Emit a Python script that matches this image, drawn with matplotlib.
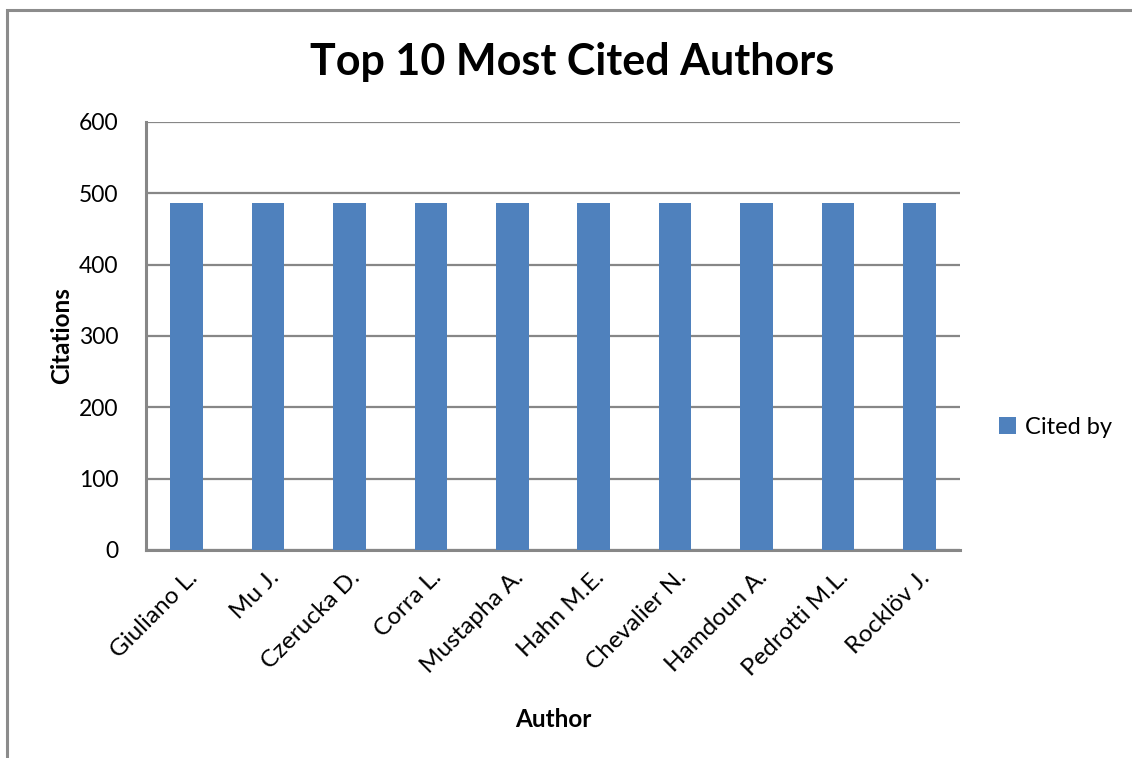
import matplotlib
matplotlib.use("Agg")
import matplotlib.pyplot as plt
from matplotlib.patches import Rectangle

authors = ["Giuliano L.", "Mu J.", "Czerucka D.", "Corra L.", "Mustapha A.",
           "Hahn M.E.", "Chevalier N.", "Hamdoun A.", "Pedrotti M.L.", "Rocklöv J."]
cited_by = [486, 486, 486, 486, 486, 486, 486, 486, 486, 486]
y_ticks = [0, 100, 200, 300, 400, 500, 600]

BAR = "#4f81bd"
GRID = "#878787"
FONT = ["Lato", "DejaVu Sans"]
plt.rcParams["font.family"] = FONT

W, H = 1132, 758
fig = plt.figure(figsize=(W / 100, H / 100), dpi=100)

# chart frame (open at right and bottom edges)
fig.add_artist(Rectangle((7 / W, -0.1), 1.2, (H - 10) / H + 0.1,
                         transform=fig.transFigure, fill=False,
                         edgecolor="#8c8c8c", linewidth=2.2))

ax = fig.add_axes([146 / W, 1 - 550 / H, (960 - 146) / W, (550 - 122) / H])
x = range(len(authors))
ax.bar(x, cited_by, width=0.4, color=BAR, label="Cited by", zorder=3)
ax.set_xlim(-0.5, len(authors) - 0.5)
ax.set_ylim(0, 600)
ax.set_yticks(y_ticks)
ax.set_yticklabels([str(v) for v in y_ticks], fontsize=16.5)
ax.set_xticks(list(x))
ax.set_xticklabels(authors, rotation=45, ha="right", rotation_mode="anchor",
                   fontsize=17.5)
ax.tick_params(axis="both", length=0)
ax.tick_params(axis="y", pad=20)
ax.tick_params(axis="x", pad=12)
ax.yaxis.grid(True, color=GRID, linewidth=1.6, zorder=0)
ax.set_axisbelow(True)
for side in ["top", "right"]:
    ax.spines[side].set_visible(False)
for side in ["left", "bottom"]:
    ax.spines[side].set_color(GRID)
    ax.spines[side].set_linewidth(2.2)

ax.set_ylabel("Citations", fontsize=17.5, fontweight="bold", labelpad=4)
ax.set_xlabel("Author", fontsize=17.5, fontweight="bold", labelpad=20)
fig.text(572 / W, 1 - 62 / H, "Top 10 Most Cited Authors", ha="center",
         va="center", fontsize=31, fontweight="bold")

fig.legend(loc="center left", bbox_to_anchor=(990 / W, 1 - 427 / H),
           frameon=False, fontsize=17, handlelength=0.7, handleheight=0.7,
           handletextpad=0.4, borderaxespad=0)

fig.savefig("out.png", dpi=100, facecolor="white")
